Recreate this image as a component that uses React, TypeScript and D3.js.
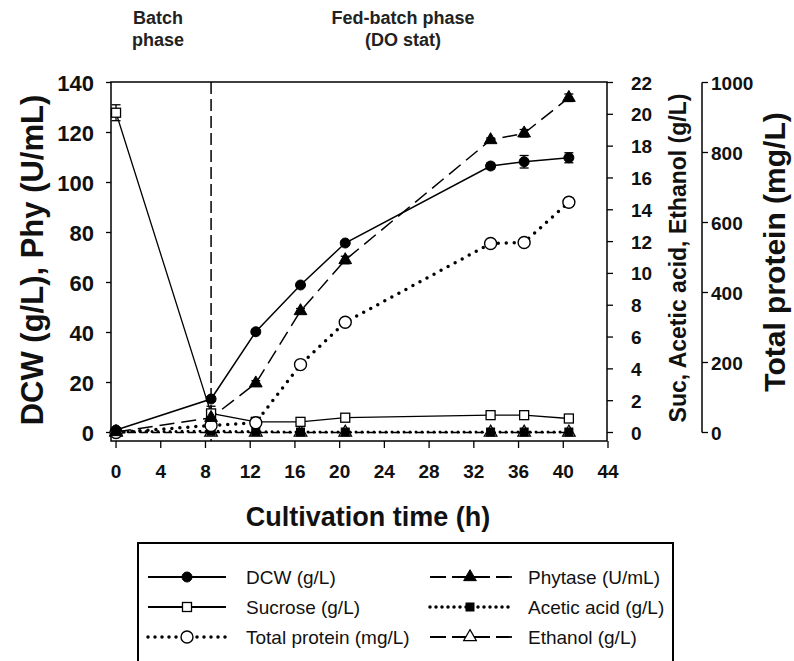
import React from "react";
import * as d3 from "d3";

const time = [0, 8.5, 12.5, 16.5, 20.5, 33.5, 36.5, 40.5];
const dcw = [1, 13.4, 40.3, 59, 75.8, 106.6, 108.3, 109.9];
const dcwErr = [0.5, 1, 0.8, 0.8, 0.8, 1.2, 2.5, 2];
const phytase = [0.2, 5.9, 19.7, 48.6, 69, 117, 119.7, 133.9];
const phyErr = [0.3, 2, 1, 1, 1.5, 0.8, 1.5, 1.5];
const sucrose = [20.1, 1.2, 0.67, 0.67, 0.93, 1.09, 1.09, 0.88];
const sucErr = [0.5, 0.45, 0.05, 0.05, 0.05, 0.05, 0.1, 0.2];
const protein = [0, 20, 28, 194, 315, 540, 543, 658];
const protErr = [3, 5, 5, 5, 8, 6, 8, 12];
const acetic = [0.05, 0.08, 0.05, 0.03, 0.03, 0.03, 0.03, 0.03];
const ethanol = [0, 0, 0, 0, 0, 0, 0, 0];

const xTicks = [0, 4, 8, 12, 16, 20, 24, 28, 32, 36, 40, 44];
const yLeftTicks = [0, 20, 40, 60, 80, 100, 120, 140];
const yR1Ticks = [0, 2, 4, 6, 8, 10, 12, 14, 16, 18, 20, 22];
const yR2Ticks = [0, 200, 400, 600, 800, 1000];
const phaseBoundary = 8.5;

const FONT = "'Liberation Sans', Arial, Helvetica, sans-serif";

const L = 111, R = 607, T = 82, B = 441;
const x = d3.scaleLinear().domain([-0.45, 44]).range([L, 608]);
const yL = d3.scaleLinear().domain([0, 140]).range([432.5, 82.5]);
const yR1 = d3.scaleLinear().domain([0, 22]).range([432.5, 82.5]);
const yR2 = d3.scaleLinear().domain([0, 1000]).range([432.5, 82.5]);

type Marker = "circleF" | "circleO" | "squareO" | "squareF" | "triF" | "triO";

function MarkerShape({ type, cx, cy }: { type: Marker; cx: number; cy: number }) {
  switch (type) {
    case "circleF":
      return <circle cx={cx} cy={cy} r={5} fill="#000" stroke="#000" strokeWidth={1} />;
    case "circleO":
      return <circle cx={cx} cy={cy} r={6} fill="#fff" stroke="#000" strokeWidth={1.4} />;
    case "squareO":
      return <rect x={cx - 4.5} y={cy - 4.5} width={9} height={9} fill="#fff" stroke="#000" strokeWidth={1.3} />;
    case "squareF":
      return <rect x={cx - 4} y={cy - 4} width={8} height={8} fill="#000" stroke="#000" strokeWidth={1} />;
    case "triF": {
      const p = d3.symbol().type(d3.symbolTriangle).size(70)();
      return <path d={p || ""} transform={`translate(${cx},${cy})`} fill="#000" stroke="#000" strokeWidth={1} />;
    }
    case "triO": {
      const p = d3.symbol().type(d3.symbolTriangle).size(70)();
      return <path d={p || ""} transform={`translate(${cx},${cy})`} fill="#fff" stroke="#000" strokeWidth={1.2} />;
    }
  }
  return null;
}

interface Series {
  name: string;
  values: number[];
  err?: number[];
  scale: d3.ScaleLinear<number, number>;
  dash: string;
  width: number;
  cap: "butt" | "round";
  marker: Marker;
}

const series: Series[] = [
  { name: "Ethanol (g/L)", values: ethanol, scale: yR1, dash: "8,4", width: 1.4, cap: "butt", marker: "triO" },
  { name: "Acetic acid (g/L)", values: acetic, scale: yR1, dash: "0,6", width: 3, cap: "round", marker: "squareF" },
  { name: "Sucrose (g/L)", values: sucrose, err: sucErr, scale: yR1, dash: "", width: 1.3, cap: "butt", marker: "squareO" },
  { name: "Total protein (mg/L)", values: protein, err: protErr, scale: yR2, dash: "0,8", width: 3.5, cap: "round", marker: "circleO" },
  { name: "Phytase (U/mL)", values: phytase, err: phyErr, scale: yL, dash: "15,7", width: 1.5, cap: "butt", marker: "triF" },
  { name: "DCW (g/L)", values: dcw, err: dcwErr, scale: yL, dash: "", width: 1.5, cap: "butt", marker: "circleF" },
];

const legendItems: { name: string; dash: string; width: number; cap: "butt" | "round"; marker: Marker; col: number; row: number }[] = [
  { name: "DCW (g/L)", dash: "", width: 1.8, cap: "butt", marker: "circleF", col: 0, row: 0 },
  { name: "Sucrose (g/L)", dash: "", width: 1.8, cap: "butt", marker: "squareO", col: 0, row: 1 },
  { name: "Total protein (mg/L)", dash: "0,7", width: 3.5, cap: "round", marker: "circleO", col: 0, row: 2 },
  { name: "Phytase (U/mL)", dash: "16,6", width: 1.8, cap: "butt", marker: "triF", col: 1, row: 0 },
  { name: "Acetic acid (g/L)", dash: "0,6", width: 3.5, cap: "round", marker: "squareF", col: 1, row: 1 },
  { name: "Ethanol (g/L)", dash: "16,6", width: 1.8, cap: "butt", marker: "triO", col: 1, row: 2 },
];

export default function App() {
  const line = (s: Series) =>
    d3
      .line<number>()
      .x((_, i) => x(time[i]))
      .y((v) => s.scale(v))(s.values) || "";

  const legendCols = [
    { x0: 148, x1: 226, mx: 187, tx: 246 },
    { x0: 430, x1: 512, mx: 470, tx: 528 },
  ];
  const legendRows = [577, 607, 637];

  return (
    <svg
      width={794}
      height={661}
      style={{ position: "absolute", left: 0, top: 0, background: "#fff" }}
      fontFamily={FONT}
    >
      <rect x={0} y={0} width={794} height={661} fill="#fff" />
      {/* phase labels */}
      <g fontWeight="bold" fontSize={18} textAnchor="middle" fill="#222">
        <text x={158} y={24}>Batch</text>
        <text x={158} y={46}>phase</text>
        <text x={403} y={24}>Fed-batch phase</text>
        <text x={403} y={46}>(DO stat)</text>
      </g>

      {/* frame */}
      <rect x={L} y={T} width={R - L} height={B - T} fill="none" stroke="#000" strokeWidth={1.5} />

      {/* phase boundary */}
      <line x1={x(phaseBoundary)} x2={x(phaseBoundary)} y1={T} y2={B} stroke="#000" strokeWidth={1.5} strokeDasharray="12,5" />

      {/* x axis */}
      <g>
        {xTicks.map((t) => (
          <g key={t}>
            <line x1={x(t)} x2={x(t)} y1={B} y2={B + 7} stroke="#000" strokeWidth={1.3} />
            <text x={x(t)} y={478} fontSize={19} fontWeight="bold" textAnchor="middle" fill="#111">
              {t}
            </text>
          </g>
        ))}
        <text x={368} y={526} fontSize={27} fontWeight="bold" textAnchor="middle" fill="#111">
          Cultivation time (h)
        </text>
      </g>

      {/* left axis */}
      <g>
        {yLeftTicks.map((t) => (
          <g key={t}>
            <line x1={L - 5} x2={L} y1={yL(t)} y2={yL(t)} stroke="#000" strokeWidth={1.3} />
            <text x={94} y={yL(t) + 8} fontSize={22} fontWeight="bold" textAnchor="end" fill="#111">
              {t}
            </text>
          </g>
        ))}
        <text transform={`translate(43,260) rotate(-90)`} fontSize={31} fontWeight="bold" textAnchor="middle" fill="#111">
          DCW (g/L), Phy (U/mL)
        </text>
      </g>

      {/* right axis 1 */}
      <g>
        {yR1Ticks.map((t) => (
          <g key={t}>
            <line x1={R} x2={R + 6} y1={yR1(t)} y2={yR1(t)} stroke="#000" strokeWidth={1.3} />
            <text x={631} y={yR1(t) + 7} fontSize={19} fontWeight="bold" textAnchor="start" fill="#111">
              {t}
            </text>
          </g>
        ))}
        <text transform={`translate(686,258) rotate(-90)`} fontSize={23} fontWeight="bold" textAnchor="middle" fill="#111">
          Suc, Acetic acid, Ethanol (g/L)
        </text>
      </g>

      {/* right axis 2 */}
      <g>
        <line x1={702} x2={702} y1={yR2(1000)} y2={yR2(0)} stroke="#000" strokeWidth={1.5} />
        {yR2Ticks.map((t) => (
          <g key={t}>
            <line x1={702} x2={708} y1={yR2(t)} y2={yR2(t)} stroke="#000" strokeWidth={1.3} />
            <text x={711} y={yR2(t) + 7} fontSize={19} fontWeight="bold" textAnchor="start" fill="#111">
              {t}
            </text>
          </g>
        ))}
        <text transform={`translate(785,252) rotate(-90)`} fontSize={30} fontWeight="bold" textAnchor="middle" fill="#111">
          Total protein (mg/L)
        </text>
      </g>

      {/* series lines */}
      {series.map((s) => (
        <path
          key={s.name + "-line"}
          d={line(s)}
          fill="none"
          stroke="#000"
          strokeWidth={s.width}
          strokeDasharray={s.dash || undefined}
          strokeLinecap={s.cap}
        />
      ))}
      {/* error bars */}
      {series.map((s) =>
        s.err
          ? s.values.map((v, i) => {
              const e = s.err![i];
              const y1 = s.scale(v - e);
              const y2 = s.scale(v + e);
              const cx = x(time[i]);
              return (
                <g key={s.name + "-err-" + i} stroke="#000" strokeWidth={1.3}>
                  <line x1={cx} x2={cx} y1={y1} y2={y2} />
                  <line x1={cx - 4.5} x2={cx + 4.5} y1={y1} y2={y1} />
                  <line x1={cx - 4.5} x2={cx + 4.5} y1={y2} y2={y2} />
                </g>
              );
            })
          : null
      )}
      {/* markers */}
      {series.map((s) =>
        s.values.map((v, i) => (
          <MarkerShape key={s.name + "-m-" + i} type={s.marker} cx={x(time[i])} cy={s.scale(v)} />
        ))
      )}

      {/* legend */}
      <rect x={138} y={543} width={535} height={130} fill="#fff" stroke="#000" strokeWidth={2} />
      {legendItems.map((it) => {
        const c = legendCols[it.col];
        const y = legendRows[it.row];
        return (
          <g key={it.name}>
            <line
              x1={c.x0}
              x2={c.x1}
              y1={y}
              y2={y}
              stroke="#000"
              strokeWidth={it.width}
              strokeDasharray={it.dash || undefined}
              strokeLinecap={it.cap}
            />
            <MarkerShape type={it.marker} cx={c.mx} cy={y} />
            <text x={c.tx} y={y + 7} fontSize={19} fill="#111">
              {it.name}
            </text>
          </g>
        );
      })}
    </svg>
  );
}
